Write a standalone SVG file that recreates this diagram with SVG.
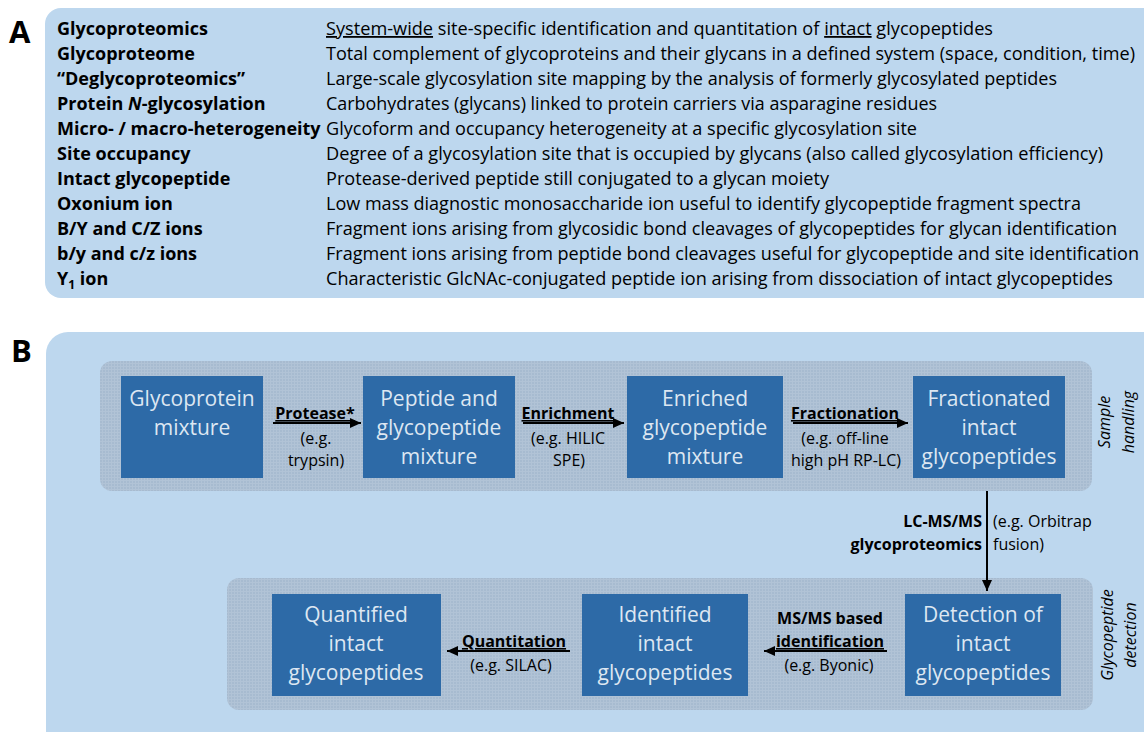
<svg xmlns="http://www.w3.org/2000/svg" width="1144" height="732" viewBox="0 0 1144 732">
<style>
  .panel { fill: #bdd7ee; }
  .plab { font-family: "Open Sans", "Liberation Sans", sans-serif; font-weight: bold; font-size: 31px; fill: #000; }
  .term { font-family: "Open Sans", "Liberation Sans", sans-serif; font-weight: bold; font-size: 18px; fill: #000; }
  .def { font-family: "Open Sans", "Liberation Sans", sans-serif; font-size: 18px; fill: #000; }
  .grp { fill: url(#tex); }
  .box { fill: #2d6aa7; }
  .btxt { font-family: "Open Sans", "Liberation Sans", sans-serif; font-size: 21px; fill: #dde7f2; text-anchor: middle; }
  .lb { font-family: "Open Sans", "Liberation Sans", sans-serif; font-size: 16px; font-weight: bold; fill: #000; text-anchor: middle; }
  .lr { font-family: "Open Sans", "Liberation Sans", sans-serif; font-size: 16px; fill: #000; text-anchor: middle; }
  .side { font-family: "Open Sans", "Liberation Sans", sans-serif; font-size: 16px; font-style: italic; fill: #000; text-anchor: middle; }
  .u { text-decoration: underline; }
  .arr { stroke: #000; stroke-width: 2; fill: none; marker-end: url(#ah); }
</style>
<defs>
  <pattern id="tex" width="3" height="3" patternUnits="userSpaceOnUse">
    <rect width="3" height="3" fill="#a7bbd0"/>
    <rect x="0" y="0" width="3" height="1" fill="#b1c3d6"/>
    <rect x="0" y="0" width="1" height="3" fill="#b1c3d6"/>
  </pattern>
  <marker id="ah" markerUnits="userSpaceOnUse" markerWidth="12" markerHeight="12" refX="11" refY="6" orient="auto">
    <path d="M0,1 L11,6 L0,11 z" fill="#000"/>
  </marker>
</defs>

<g id="panelA">
  <rect class="panel" x="45" y="8" width="1200" height="290" rx="16"/>
  <text class="plab" x="9" y="43">A</text>
  <text class="term" x="57" y="35">Glycoproteomics</text>
  <text class="term" x="57" y="60">Glycoproteome</text>
  <text class="term" x="57" y="85">“Deglycoproteomics”</text>
  <text class="term" x="57" y="110">Protein <tspan font-style="italic">N</tspan>-glycosylation</text>
  <text class="term" x="57" y="135">Micro- / macro-heterogeneity</text>
  <text class="term" x="57" y="160">Site occupancy</text>
  <text class="term" x="57" y="185">Intact glycopeptide</text>
  <text class="term" x="57" y="210">Oxonium ion</text>
  <text class="term" x="57" y="235">B/Y and C/Z ions</text>
  <text class="term" x="57" y="260">b/y and c/z ions</text>
  <text class="term" x="57" y="285">Y<tspan font-size="12" dy="4">1</tspan><tspan dy="-4"> ion</tspan></text>

  <text class="def" x="326" y="35" textLength="667" lengthAdjust="spacingAndGlyphs"><tspan class="u">System-wide</tspan> site-specific identification and quantitation of <tspan class="u">intact</tspan> glycopeptides</text>
  <text class="def" x="326" y="60" textLength="809" lengthAdjust="spacingAndGlyphs">Total complement of glycoproteins and their glycans in a defined system (space, condition, time)</text>
  <text class="def" x="326" y="85" textLength="731" lengthAdjust="spacingAndGlyphs">Large-scale glycosylation site mapping by the analysis of formerly glycosylated peptides</text>
  <text class="def" x="326" y="110" textLength="611" lengthAdjust="spacingAndGlyphs">Carbohydrates (glycans) linked to protein carriers via asparagine residues</text>
  <text class="def" x="326" y="135" textLength="591" lengthAdjust="spacingAndGlyphs">Glycoform and occupancy heterogeneity at a specific glycosylation site</text>
  <text class="def" x="326" y="160" textLength="777" lengthAdjust="spacingAndGlyphs">Degree of a glycosylation site that is occupied by glycans (also called glycosylation efficiency)</text>
  <text class="def" x="326" y="185" textLength="503" lengthAdjust="spacingAndGlyphs">Protease-derived peptide still conjugated to a glycan moiety</text>
  <text class="def" x="326" y="210" textLength="755" lengthAdjust="spacingAndGlyphs">Low mass diagnostic monosaccharide ion useful to identify glycopeptide fragment spectra</text>
  <text class="def" x="326" y="235" textLength="791" lengthAdjust="spacingAndGlyphs">Fragment ions arising from glycosidic bond cleavages of glycopeptides for glycan identification</text>
  <text class="def" x="326" y="260" textLength="813" lengthAdjust="spacingAndGlyphs">Fragment ions arising from peptide bond cleavages useful for glycopeptide and site identification</text>
  <text class="def" x="326" y="285" textLength="787" lengthAdjust="spacingAndGlyphs">Characteristic GlcNAc-conjugated peptide ion arising from dissociation of intact glycopeptides</text>
</g>

<g id="panelB">
  <rect class="panel" x="46" y="332" width="1200" height="500" rx="22"/>
  <text class="plab" x="11" y="362">B</text>
</g>

<g id="sample-handling">
  <rect class="grp" x="100" y="361" width="992" height="130" rx="12"/>
  <text class="side" transform="translate(1110,422) rotate(-90)">Sample</text>
  <text class="side" transform="translate(1134,422) rotate(-90)">handling</text>
</g>

<g id="glycopeptide-detection">
  <rect class="grp" x="227" y="578" width="866" height="132" rx="12"/>
  <text class="side" transform="translate(1113,635) rotate(-90)">Glycopeptide</text>
  <text class="side" transform="translate(1136,635) rotate(-90)">detection</text>
</g>

<g id="n-glycoprotein-mixture">
  <rect class="box" x="121" y="376" width="142" height="102"/>
  <text class="btxt" x="192" y="406">Glycoprotein</text>
  <text class="btxt" x="192" y="435">mixture</text>
</g>

<g id="n-peptide-mixture">
  <rect class="box" x="363" y="376" width="152" height="102"/>
  <text class="btxt" x="439" y="406">Peptide and</text>
  <text class="btxt" x="439" y="435">glycopeptide</text>
  <text class="btxt" x="439" y="464">mixture</text>
</g>

<g id="n-enriched">
  <rect class="box" x="627" y="376" width="156" height="102"/>
  <text class="btxt" x="705" y="406">Enriched</text>
  <text class="btxt" x="705" y="435">glycopeptide</text>
  <text class="btxt" x="705" y="464">mixture</text>
</g>

<g id="n-fractionated">
  <rect class="box" x="913" y="376" width="152" height="102"/>
  <text class="btxt" x="989" y="406">Fractionated</text>
  <text class="btxt" x="989" y="435">intact</text>
  <text class="btxt" x="989" y="464">glycopeptides</text>
</g>

<g id="n-detection">
  <rect class="box" x="905" y="594" width="156" height="102"/>
  <text class="btxt" x="983" y="622">Detection of</text>
  <text class="btxt" x="983" y="651">intact</text>
  <text class="btxt" x="983" y="680">glycopeptides</text>
</g>

<g id="n-identified">
  <rect class="box" x="582" y="594" width="166" height="102"/>
  <text class="btxt" x="665" y="622">Identified</text>
  <text class="btxt" x="665" y="651">intact</text>
  <text class="btxt" x="665" y="680">glycopeptides</text>
</g>

<g id="n-quantified">
  <rect class="box" x="272" y="594" width="169" height="102"/>
  <text class="btxt" x="356" y="622">Quantified</text>
  <text class="btxt" x="356" y="651">intact</text>
  <text class="btxt" x="356" y="680">glycopeptides</text>
</g>

<g id="connectors">
  <line class="arr" x1="273" y1="423" x2="361" y2="423"/>
  <text class="lb u" x="315" y="419">Protease*</text>
  <text class="lr" x="316" y="444">(e.g.</text>
  <text class="lr" x="316" y="466">trypsin)</text>

  <line class="arr" x1="523" y1="423" x2="624" y2="423"/>
  <text class="lb u" x="568" y="419">Enrichment</text>
  <text class="lr" x="568" y="444">(e.g. HILIC</text>
  <text class="lr" x="569" y="466">SPE)</text>

  <line class="arr" x1="793" y1="423" x2="908" y2="423"/>
  <text class="lb u" x="845" y="419">Fractionation</text>
  <text class="lr" x="845" y="444">(e.g. off-line</text>
  <text class="lr" x="846" y="466">high pH RP-LC)</text>

  <line class="arr" x1="987" y1="491" x2="987" y2="591"/>
  <text class="lb" x="982" y="527" style="text-anchor:end">LC-MS/MS</text>
  <text class="lb" x="982" y="550" style="text-anchor:end">glycoproteomics</text>
  <text class="lr" x="993" y="527" style="text-anchor:start">(e.g. Orbitrap</text>
  <text class="lr" x="993" y="550" style="text-anchor:start">fusion)</text>

  <line class="arr" x1="887" y1="651" x2="764" y2="651"/>
  <text class="lb" x="830" y="624">MS/MS based</text>
  <text class="lb u" x="830" y="647">identification</text>
  <text class="lr" x="829" y="671">(e.g. Byonic)</text>

  <line class="arr" x1="570" y1="651" x2="447" y2="651"/>
  <text class="lb u" x="514" y="647">Quantitation</text>
  <text class="lr" x="511" y="671">(e.g. SILAC)</text>
</g>
</svg>
